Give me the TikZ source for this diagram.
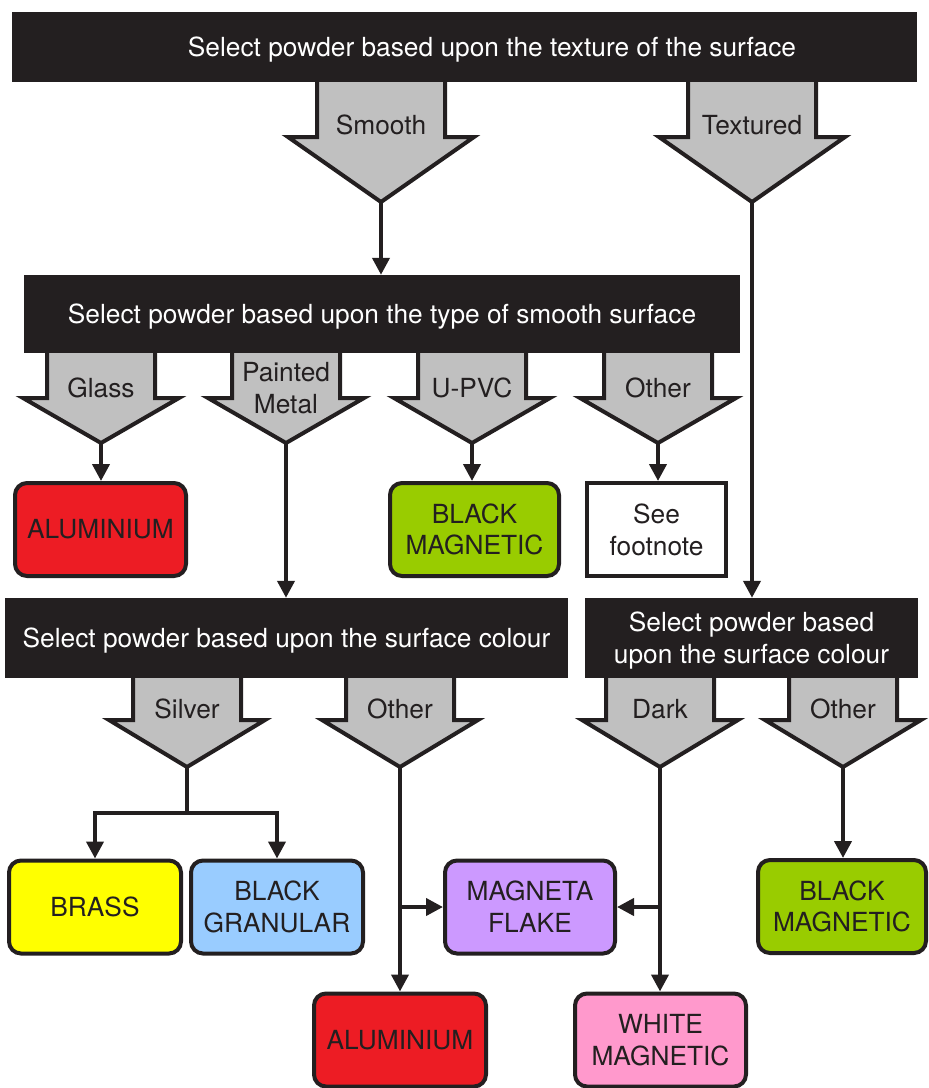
\documentclass[tikz,border=0pt]{standalone}
\usepackage{fontspec}
\setmainfont{TeX Gyre Heros}
\usetikzlibrary{arrows.meta}
\definecolor{ink}{HTML}{231F20}
\definecolor{arrowgray}{HTML}{C0C0C0}
\definecolor{alured}{HTML}{ED1C24}
\definecolor{maggreen}{HTML}{99CC00}
\definecolor{brassyellow}{HTML}{FFFF00}
\definecolor{granblue}{HTML}{99CCFF}
\definecolor{flakepurple}{HTML}{CC99FF}
\definecolor{whitepink}{HTML}{FF99CC}

\begin{document}
\begin{tikzpicture}[x=1pt,y=-1pt,
  font=\fontsize{26.3}{31.8}\selectfont,
  bar/.style={fill=ink,text=white,inner sep=0pt,align=center,text depth=0pt},
  powder/.style={draw=ink,line width=4pt,rounded corners=12pt,text=ink,
    align=center,inner sep=0pt,minimum height=93pt},
  garrow/.style={fill=arrowgray,draw=ink,line width=4pt,line join=miter},
  glabel/.style={text=ink,align=center,inner sep=0pt},
  link/.style={draw=ink,line width=4pt},
  conn/.style={link,-{Triangle[width=17pt,length=17pt]}}]
  \useasboundingbox (0,0) rectangle (929,1088);

  % grey block arrows, drawn under the bars
  \foreach \x/\nm/\txt in {381/smooth/Smooth, 752/textured/Textured}{
    \draw[garrow] (\x-64,76) -- (\x-64,137) -- (\x-93,137) -- (\x,202)
      -- (\x+93,137) -- (\x+64,137) -- (\x+64,76) -- cycle;
    \node[glabel] (\nm) at (\x,125) {\txt};
    \coordinate (\nm-tip) at (\x,202);
  }
  \foreach \x/\nm/\txt in {101/glass/Glass, 286/paint/{Painted\\Metal},
      472/upvc/U-PVC, 658/otherA/Other}{
    \draw[garrow] (\x-54,347) -- (\x-54,398) -- (\x-78,398) -- (\x,443)
      -- (\x+78,398) -- (\x+54,398) -- (\x+54,347) -- cycle;
    \node[glabel] (\nm) at (\x,388) {\txt};
    \coordinate (\nm-tip) at (\x,443);
  }
  \foreach \x/\nm/\txt in {187/silver/Silver, 400/otherB/Other,
      660/dark/Dark, 843/otherC/Other}{
    \draw[garrow] (\x-54,672) -- (\x-54,720) -- (\x-78,720) -- (\x,767)
      -- (\x+78,720) -- (\x+54,720) -- (\x+54,672) -- cycle;
    \node[glabel] (\nm) at (\x,709) {\txt};
    \coordinate (\nm-tip) at (\x,767);
  }

  % decision bars
  \fill[ink] (12,12) rectangle (917,82);
  \node[bar] (texture) at (492,47) {Select powder based upon the texture of the surface};
  \node[bar,minimum width=716pt,minimum height=78pt] (smoothtype) at (382,314)
    {Select powder based upon the type of smooth surface};
  \node[bar,minimum width=563pt,minimum height=80pt] (colourA) at (286.5,638)
    {Select powder based upon the surface colour};
  \node[bar,minimum width=333pt,minimum height=80pt] (colourB) at (751.5,638)
    {Select powder based\\upon the surface colour};

  % powders
  \node[powder,fill=alured,minimum width=171pt] (aluA) at (100.5,529.5) {ALUMINIUM};
  \node[powder,fill=maggreen,minimum width=169pt] (bmagA) at (474.5,529.5) {BLACK\\MAGNETIC};
  \node[powder,fill=white,rounded corners=0pt,minimum width=139pt] (foot) at (656.5,529.5) {See\\footnote};
  \node[powder,fill=brassyellow,minimum width=172pt] (brass) at (95,907) {BRASS};
  \node[powder,fill=granblue,minimum width=172pt] (bgran) at (277,907) {BLACK\\GRANULAR};
  \node[powder,fill=flakepurple,minimum width=170pt] (flake) at (530,907) {MAGNETA\\FLAKE};
  \node[powder,fill=maggreen,minimum width=168pt] (bmagB) at (842,906.5) {BLACK\\MAGNETIC};
  \node[powder,fill=alured,minimum width=172pt] (aluB) at (400,1040) {ALUMINIUM};
  \node[powder,fill=whitepink,minimum width=171pt] (white) at (660.5,1040) {WHITE\\MAGNETIC};

  % connectors
  \draw[conn] (smooth-tip) -- (smooth-tip |- smoothtype.north);
  \draw[conn] (textured-tip) -- (textured-tip |- colourB.north);
  \draw[conn] (glass-tip) -- (glass-tip |- aluA.north);
  \draw[conn] (paint-tip) -- (paint-tip |- colourA.north);
  \draw[conn] (upvc-tip) -- (upvc-tip |- bmagA.north);
  \draw[conn] (otherA-tip) -- (otherA-tip |- foot.north);
  \coordinate (silver-split) at (187,813);
  \draw[link] (silver-tip) -- (silver-split);
  \draw[conn] (silver-split) -| (brass.north);
  \draw[conn] (silver-split) -| (bgran.north);
  \draw[conn] (otherB-tip) -- (otherB-tip |- aluB.north);
  \draw[conn] (otherB-tip |- flake.west) -- (flake.west);
  \draw[conn] (dark-tip) -- (dark-tip |- white.north);
  \draw[conn] (dark-tip |- flake.east) -- (flake.east);
  \draw[conn] (otherC-tip) -- (otherC-tip |- bmagB.north);
\end{tikzpicture}
\end{document}
